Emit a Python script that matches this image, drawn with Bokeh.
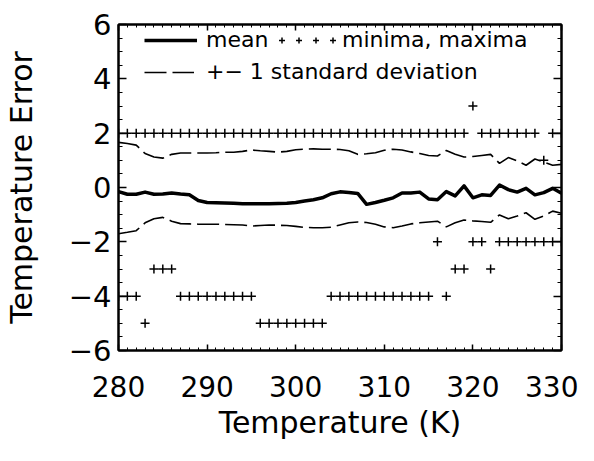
from bokeh.plotting import figure
from bokeh.models import (ColumnDataSource, LinearAxis, SingleIntervalTicker, Range1d,
                          Legend, LegendItem, CustomJSTickFormatter)
from bokeh.embed import file_html
from bokeh.resources import INLINE

# ---------------- data ----------------
temperature = [280, 281, 282, 283, 284, 285, 286, 287, 288, 289,
               290, 291, 292, 293, 294, 295, 296, 297, 298, 299,
               300, 301, 302, 303, 304, 305, 306, 307, 308, 309,
               310, 311, 312, 313, 314, 315, 316, 317, 318, 319,
               320, 321, 322, 323, 324, 325, 326, 327, 328, 329,
               330]

mean_error = [-0.15, -0.25, -0.25, -0.17, -0.25, -0.24, -0.20, -0.24, -0.27, -0.48,
              -0.55, -0.56, -0.57, -0.58, -0.60, -0.60, -0.60, -0.60, -0.59, -0.58,
              -0.55, -0.50, -0.45, -0.38, -0.23, -0.16, -0.18, -0.22, -0.62, -0.55,
              -0.47, -0.38, -0.20, -0.20, -0.17, -0.42, -0.45, -0.15, -0.31, 0.06,
              -0.38, -0.27, -0.29, 0.09, -0.08, -0.17, -0.03, -0.27, -0.19, -0.03,
              -0.21]

upper_sd = [1.66, 1.62, 1.56, 1.25, 1.12, 1.08, 1.22, 1.27, 1.27, 1.27,
            1.27, 1.28, 1.30, 1.30, 1.33, 1.38, 1.35, 1.33, 1.30, 1.33,
            1.39, 1.41, 1.42, 1.41, 1.41, 1.40, 1.35, 1.22, 1.24, 1.28,
            1.37, 1.41, 1.38, 1.31, 1.25, 1.18, 1.16, 1.36, 1.22, 1.12,
            1.14, 1.18, 1.22, 0.89, 1.10, 0.98, 0.82, 1.05, 0.93, 0.82,
            0.85]

lower_sd = [-1.70, -1.65, -1.59, -1.30, -1.15, -1.10, -1.24, -1.33, -1.34, -1.35,
            -1.35, -1.35, -1.36, -1.37, -1.38, -1.42, -1.40, -1.38, -1.39, -1.40,
            -1.43, -1.47, -1.48, -1.48, -1.46, -1.38, -1.30, -1.27, -1.29, -1.35,
            -1.45, -1.48, -1.42, -1.34, -1.30, -1.27, -1.24, -1.45, -1.30, -1.20,
            -1.23, -1.25, -1.28, -1.01, -1.15, -1.05, -0.93, -1.17, -1.05, -0.87,
            -0.95]

minima = [-4, -4, -4, -5, -3, -3, -3, -4, -4, -4,
          -4, -4, -4, -4, -4, -4, -5, -5, -5, -5,
          -5, -5, -5, -5, -4, -4, -4, -4, -4, -4,
          -4, -4, -4, -4, -4, -4, -2, -4, -3, -3,
          -2, -2, -3, -2, -2, -2, -2, -2, -2, -2,
          -2]

maxima = [2, 2, 2, 2, 2, 2, 2, 2, 2, 2,
          2, 2, 2, 2, 2, 2, 2, 2, 2, 2,
          2, 2, 2, 2, 2, 2, 2, 2, 2, 2,
          2, 2, 2, 2, 2, 2, 2, 2, 2, 2,
          3, 2, 2, 2, 2, 2, 2, 2, 1, 2,
          2]

y_tick_values = [-6, -4, -2, 0, 2, 4, 6]
y_tick_labels = ["\u22126", "\u22124", "\u22122", "0", "2", "4", "6"]

x_title = "Temperature (K)"
y_title = "Temperature Error"
legend_labels = ["mean", "minima, maxima", "+\u2212 1 standard deviation"]

FONT = "DejaVu Sans"

# ---------------- figure ----------------
p = figure(width=578, height=445,
           x_range=Range1d(280, 330), y_range=Range1d(-6, 6),
           output_backend="svg", toolbar_location=None,
           min_border_left=111, min_border_right=17,
           min_border_top=24, min_border_bottom=95,
           x_axis_label=x_title, y_axis_label=y_title)
p.grid.visible = False
p.background_fill_color = "white"
p.border_fill_color = "white"
p.outline_line_color = "black"
p.outline_line_width = 2

xt = SingleIntervalTicker(interval=10, num_minor_ticks=10)
yt = SingleIntervalTicker(interval=2, num_minor_ticks=4)


def style_axis(ax, major_len, minor_len):
    ax.major_tick_in = major_len
    ax.major_tick_out = 0
    ax.minor_tick_in = minor_len
    ax.minor_tick_out = 0
    ax.axis_line_color = "black"
    ax.axis_line_width = 2
    ax.major_tick_line_color = "black"
    ax.major_tick_line_width = 1.5
    ax.minor_tick_line_color = "black"
    ax.minor_tick_line_width = 1
    ax.major_label_text_font = FONT
    ax.major_label_text_font_size = "28px"
    ax.major_label_text_color = "black"
    ax.axis_label_text_font = FONT
    ax.axis_label_text_font_size = "30px"
    ax.axis_label_text_font_style = "normal"
    ax.axis_label_text_color = "black"


xa = p.xaxis[0]
ya = p.yaxis[0]
xa.ticker = xt
ya.ticker = yt
style_axis(xa, 6, 3)
style_axis(ya, 8, 4)
ya.major_label_text_font_size = "29px"
xa.major_label_standoff = 25
xa.axis_label_standoff = 5
ya.major_label_standoff = 7
ya.axis_label_standoff = 27
ya.major_label_overrides = {v: s for v, s in zip(y_tick_values, y_tick_labels)}

blank = CustomJSTickFormatter(code="return ''")
top = LinearAxis(ticker=xt, formatter=blank, major_label_standoff=0, axis_label_standoff=0)
style_axis(top, 6, 3)
top.major_label_text_font_size = "1px"
p.add_layout(top, "above")
right = LinearAxis(ticker=yt, formatter=blank, major_label_standoff=0, axis_label_standoff=0)
style_axis(right, 8, 4)
right.major_label_text_font_size = "1px"
p.add_layout(right, "right")

# ---------------- glyphs ----------------
src = ColumnDataSource(dict(t=temperature, mean=mean_error, up=upper_sd, lo=lower_sd))
ext = ColumnDataSource(dict(t=temperature + temperature, v=minima + maxima))

mean_r = p.line("t", "mean", source=src, line_color="black", line_width=3.5,
                line_join="round")
up_r = p.line("t", "up", source=src, line_color="black", line_width=1.6,
              line_dash="22 6")
lo_r = p.line("t", "lo", source=src, line_color="black", line_width=1.6,
              line_dash="22 6")
ext_r = p.scatter("t", "v", source=ext, marker="cross", size=9,
                  line_color="black", line_width=1.5)


# ---------------- legend ----------------
def make_legend(items, loc, gw, standoff, spacing=0):
    lg = Legend(items=items, orientation="horizontal", location=loc,
                glyph_width=gw, glyph_height=20, label_height=20, label_width=0,
                label_standoff=standoff, spacing=spacing, padding=0, margin=0,
                border_line_color=None, background_fill_alpha=0,
                label_text_font=FONT, label_text_font_size="22px",
                label_text_color="black")
    p.add_layout(lg)
    return lg


make_legend([LegendItem(label=legend_labels[0], renderers=[mean_r])], (26, 298), 53, 9)
make_legend([LegendItem(label="", renderers=[ext_r]),
             LegendItem(label="", renderers=[ext_r]),
             LegendItem(label="", renderers=[ext_r]),
             LegendItem(label=legend_labels[1], renderers=[ext_r])],
            (156, 298), 15, 2, spacing=-4)
make_legend([LegendItem(label=legend_labels[2], renderers=[up_r])], (26, 266), 50, 12)

open("out.html", "w").write(file_html(p, INLINE))
